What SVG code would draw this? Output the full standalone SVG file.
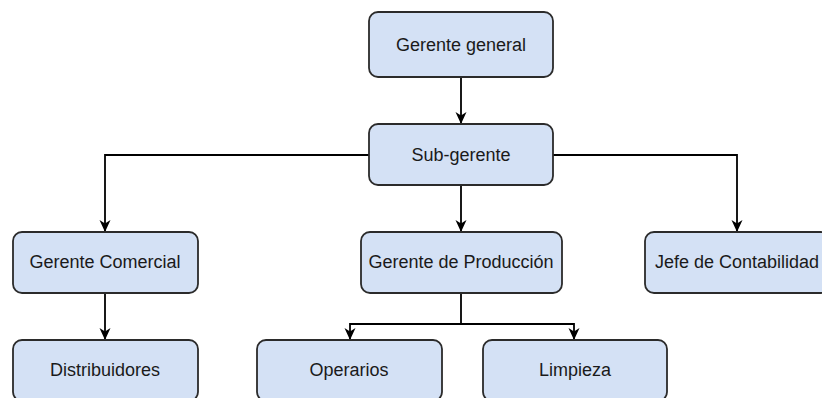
<svg xmlns="http://www.w3.org/2000/svg" width="822" height="398" viewBox="0 0 822 398">
<style>
.box{fill:#d4e1f5;stroke:#2b2b2b;stroke-width:1.8}
.lbl{font-family:"Liberation Sans",Arial,sans-serif;font-size:18px;fill:#1a1a1a;text-anchor:middle}
.edge{fill:none;stroke:#000;stroke-width:1.8}
</style>
<defs>
<marker id="arr" viewBox="0 0 12 12" refX="12" refY="6" markerWidth="12" markerHeight="12" markerUnits="userSpaceOnUse" orient="auto">
<path d="M0,0.5 L12,6 L0,11.5 L3.5,6 Z" fill="#000"/>
</marker>
</defs>
<rect width="822" height="398" fill="#fff"/>
<g id="connectors">
<path class="edge" d="M461,77 V124" marker-end="url(#arr)"/>
<path class="edge" d="M369,155 H105 V232" marker-end="url(#arr)"/>
<path class="edge" d="M553,155 H737 V232" marker-end="url(#arr)"/>
<path class="edge" d="M461,185 V232" marker-end="url(#arr)"/>
<path class="edge" d="M105,293 V340" marker-end="url(#arr)"/>
<path class="edge" d="M461,293 V324 H350 V340" marker-end="url(#arr)"/>
<path class="edge" d="M461,324 H574 V340" marker-end="url(#arr)"/>
</g>
<g id="gerente-general"><rect class="box" x="369" y="12" width="184" height="65" rx="9"/><text class="lbl" x="461" y="51">Gerente general</text></g>
<g id="sub-gerente"><rect class="box" x="369" y="124" width="184" height="61" rx="9"/><text class="lbl" x="461" y="161">Sub-gerente</text></g>
<g id="gerente-comercial"><rect class="box" x="13" y="232" width="185" height="61" rx="9"/><text class="lbl" x="105" y="268">Gerente Comercial</text></g>
<g id="gerente-produccion"><rect class="box" x="361" y="232" width="201" height="61" rx="9"/><text class="lbl" x="461" y="268">Gerente de Producción</text></g>
<g id="jefe-contabilidad"><rect class="box" x="645" y="232" width="185" height="61" rx="9"/><text class="lbl" x="737" y="268">Jefe de Contabilidad</text></g>
<g id="distribuidores"><rect class="box" x="13" y="340" width="185" height="61" rx="9"/><text class="lbl" x="105" y="376">Distribuidores</text></g>
<g id="operarios"><rect class="box" x="257" y="340" width="185" height="61" rx="9"/><text class="lbl" x="349" y="376">Operarios</text></g>
<g id="limpieza"><rect class="box" x="483" y="340" width="184" height="61" rx="9"/><text class="lbl" x="575" y="376">Limpieza</text></g>
</svg>
